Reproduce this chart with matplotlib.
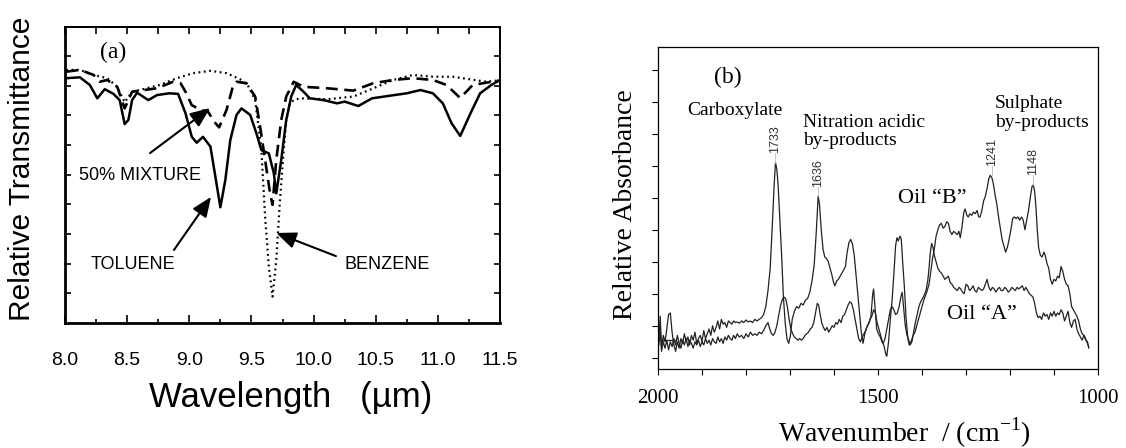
import numpy as np
import matplotlib
matplotlib.use("Agg")
import matplotlib.pyplot as plt

plt.rcParams['mathtext.fontset'] = 'custom'
plt.rcParams['mathtext.rm'] = 'Liberation Serif'

# ---------------- Panel (a) data: wavelength (um) vs relative transmittance ----------------
tol_w = [8.01, 8.12, 8.20, 8.26, 8.32, 8.39, 8.44, 8.48, 8.51, 8.54, 8.58, 8.62, 8.67, 8.74, 8.84, 8.91,
         8.97, 9.02, 9.06, 9.11, 9.17, 9.21, 9.25, 9.29, 9.33, 9.38, 9.42, 9.49, 9.54, 9.58, 9.64, 9.68,
         9.70, 9.74, 9.78, 9.82, 9.86, 9.92, 9.97, 10.08, 10.19, 10.25, 10.36, 10.47, 10.60, 10.75, 10.86,
         10.96, 11.04, 11.11, 11.18, 11.26, 11.34, 11.43, 11.50]
tol_t = [8.26, 8.29, 8.03, 7.58, 7.89, 7.73, 7.52, 6.71, 6.85, 7.52, 7.77, 7.66, 7.52, 7.69, 7.75, 7.73,
         7.07, 6.28, 6.08, 6.28, 5.95, 4.93, 3.90, 4.82, 6.17, 7.02, 7.24, 7.02, 6.40, 5.83, 5.72, 5.05,
         4.37, 5.50, 6.85, 7.64, 8.03, 7.80, 7.58, 7.52, 7.41, 7.47, 7.32, 7.58, 7.66, 7.75, 7.86,
         7.75, 7.41, 6.74, 6.31, 7.05, 7.75, 8.03, 8.20]

mix_w = [8.01, 8.12, 8.23, 8.28, 8.34, 8.42, 8.48, 8.54, 8.60, 8.74, 8.87, 8.93, 8.97, 9.02, 9.09, 9.15,
         9.21, 9.24, 9.30, 9.35, 9.38, 9.46, 9.53, 9.57, 9.61, 9.65, 9.67, 9.70, 9.74, 9.78, 9.84, 9.92,
         10.11, 10.32, 10.48, 10.64, 10.80, 10.96, 11.07, 11.18, 11.28, 11.39, 11.50]
mix_t = [8.48, 8.54, 8.37, 8.14, 8.20, 7.97, 7.24, 7.80, 7.84, 7.92, 8.14, 8.09, 7.80, 7.35, 7.19, 7.13,
         6.74, 6.60, 7.19, 7.97, 8.14, 8.09, 7.64, 6.62, 5.50, 4.37, 3.98, 5.50, 6.85, 7.64, 8.14, 7.97,
         7.92, 7.84, 8.09, 8.20, 8.26, 8.20, 8.03, 7.59, 8.03, 8.11, 8.18]

ben_w = [8.01, 8.12, 8.23, 8.34, 8.42, 8.48, 8.54, 8.61, 8.76, 8.90, 9.03, 9.17, 9.30, 9.41, 9.47, 9.53,
         9.55, 9.58, 9.61, 9.64, 9.67, 9.70, 9.73, 9.76, 9.78, 9.81, 9.84, 9.89, 10.11, 10.32, 10.51,
         10.64, 10.80, 10.96, 11.12, 11.39, 11.50]
ben_t = [8.54, 8.54, 8.37, 8.26, 7.97, 7.45, 7.80, 7.87, 8.03, 8.26, 8.43, 8.51, 8.43, 8.22, 8.03, 7.52,
         6.85, 5.84, 3.58, 1.89, 0.88, 2.12, 4.15, 5.84, 6.85, 7.41, 7.52, 7.58, 7.55, 7.64, 7.97,
         8.20, 8.37, 8.31, 8.31, 8.14, 8.19]

a_xticklabels = ['8.0', '8.5', '9.0', '9.5', '10.0', '10.5', '11.0', '11.5']

# ---------------- Panel (b) data: wavenumber (cm-1) vs relative absorbance ----------------
oilB_x = [1998, 1995, 1992, 1988, 1984, 1980, 1976, 1972, 1968, 1964, 1960, 1956, 1952, 1948, 1944, 1940,
          1936, 1932, 1928, 1924, 1920, 1916, 1912, 1908, 1904, 1900, 1896, 1892, 1888, 1884, 1880, 1876,
          1872, 1868, 1864, 1860, 1856, 1852, 1848, 1844, 1840, 1836, 1832, 1828, 1824, 1820, 1815, 1810,
          1805, 1800, 1795, 1790, 1785, 1780, 1775, 1770, 1765, 1760, 1755, 1750, 1745, 1740, 1736, 1733,
          1730, 1727, 1723, 1719, 1715, 1711, 1707, 1703, 1699, 1695, 1690, 1685, 1680, 1675, 1670, 1665,
          1660, 1655, 1650, 1645, 1640, 1636, 1633, 1629, 1625, 1621, 1617, 1613, 1609, 1605, 1601, 1598,
          1594, 1590, 1586, 1582, 1578, 1574, 1570, 1566, 1562, 1558, 1554, 1550, 1546, 1542, 1538, 1534,
          1530, 1526, 1522, 1518, 1514, 1510, 1506, 1502, 1498, 1494, 1490, 1486, 1482, 1480, 1476, 1472,
          1468, 1464, 1460, 1457, 1454, 1450, 1447, 1444, 1440, 1436, 1432, 1429, 1425, 1420, 1416, 1412,
          1408, 1404, 1400, 1396, 1392, 1388, 1384, 1380, 1376, 1372, 1368, 1364, 1360, 1356, 1352, 1348,
          1344, 1340, 1336, 1332, 1328, 1324, 1320, 1316, 1313, 1309, 1305, 1302, 1298, 1295, 1291, 1287,
          1283, 1279, 1275, 1271, 1268, 1264, 1260, 1256, 1252, 1248, 1245, 1241, 1238, 1234, 1230, 1226,
          1222, 1218, 1214, 1210, 1206, 1202, 1198, 1194, 1190, 1186, 1182, 1178, 1174, 1170, 1166, 1162,
          1158, 1154, 1150, 1147, 1144, 1141, 1138, 1135, 1131, 1127, 1123, 1120, 1116, 1112, 1108, 1104,
          1100, 1096, 1092, 1088, 1084, 1080, 1076, 1072, 1068, 1064, 1060, 1056, 1052, 1048, 1044, 1040,
          1036, 1032, 1028, 1024, 1021]
oilB_y = [0.6, 1.3, 0.3, 0.7, 0.5, 0.9, 1.35, 1.4, 0.8, 0.4, 0.2, 0.5, 0.3, 0.6, 0.45, 0.75,
          0.5, 0.65, 0.4, 0.7, 0.55, 0.8, 0.45, 0.6, 0.7, 0.5, 0.85, 0.6, 0.75, 0.9, 0.7, 1.0,
          0.8, 0.95, 1.15, 0.9, 1.2, 1.05, 1.1, 0.95, 1.15, 1.1, 1.05, 1.15, 1.1, 1.12, 1.08, 1.15,
          1.1, 1.18, 1.12, 1.15, 1.1, 1.2, 1.15, 1.2, 1.25, 1.35, 1.6, 2.1, 2.8, 4.2, 5.4, 6.1,
          5.9, 5.4, 4.3, 3.2, 1.9, 1.1, 0.6, 0.45, 0.7, 1.2, 1.45, 1.6, 1.55, 1.7, 1.65, 1.8,
          1.85, 2.05, 2.4, 2.9, 4.0, 5.05, 4.8, 4.0, 3.4, 3.15, 3.1, 3.0, 2.8, 2.6, 2.35, 2.25,
          2.4, 2.45, 2.55, 2.65, 2.75, 2.85, 3.3, 3.6, 3.7, 3.55, 3.2, 2.6, 2.0, 1.4, 0.8, 0.45,
          0.75, 0.95, 1.05, 1.2, 1.3, 1.5, 1.4, 1.1, 0.9, 0.7, 0.5, 0.35, 0.1, 0.05, 0.5, 1.2,
          1.8, 2.6, 3.5, 3.75, 3.65, 3.8, 3.7, 3.0, 2.2, 1.2, 0.6, 0.4, 0.5, 0.7, 0.8, 1.0,
          1.2, 1.4, 1.6, 1.8, 1.95, 2.1, 2.3, 2.7, 3.1, 3.4, 3.8, 4.0, 4.15, 4.2, 4.05, 4.1,
          4.25, 4.2, 3.95, 3.85, 3.95, 3.9, 3.85, 3.95, 3.75, 4.1, 4.55, 4.65, 4.45, 4.4, 4.5, 4.45,
          4.55, 4.5, 4.6, 4.4, 4.4, 4.6, 4.9, 5.05, 5.3, 5.6, 5.7, 5.62, 5.45, 5.1, 4.8, 4.4,
          4.05, 3.7, 3.5, 3.3, 3.45, 3.7, 4.0, 4.35, 4.4, 4.35, 4.4, 4.3, 4.4, 4.3, 4.0, 4.3,
          4.6, 5.0, 5.35, 5.4, 5.2, 4.7, 4.0, 3.45, 3.2, 3.15, 3.3, 3.2, 2.95, 2.8, 2.45, 2.3,
          2.45, 2.4, 2.55, 2.5, 2.85, 2.7, 2.45, 2.3, 2.25, 2.0, 1.6, 1.5, 1.4, 1.3, 1.15, 0.9,
          0.75, 0.7, 0.55, 0.5, 0.3]

oilA_x = [1998, 1995, 1992, 1988, 1984, 1980, 1976, 1972, 1968, 1964, 1960, 1956, 1952, 1948, 1944, 1940,
          1936, 1932, 1928, 1924, 1920, 1916, 1912, 1908, 1904, 1900, 1896, 1892, 1888, 1884, 1880, 1876,
          1872, 1868, 1864, 1860, 1856, 1852, 1848, 1844, 1840, 1836, 1832, 1828, 1824, 1820, 1815, 1810,
          1805, 1800, 1795, 1790, 1785, 1780, 1775, 1770, 1765, 1760, 1755, 1750, 1746, 1742, 1738, 1734,
          1730, 1726, 1722, 1718, 1714, 1710, 1706, 1702, 1698, 1694, 1690, 1686, 1682, 1678, 1674, 1670,
          1666, 1662, 1658, 1654, 1650, 1646, 1642, 1638, 1635, 1632, 1628, 1624, 1620, 1616, 1612, 1608,
          1604, 1600, 1596, 1592, 1588, 1584, 1580, 1576, 1572, 1568, 1564, 1560, 1556, 1552, 1548, 1544,
          1540, 1536, 1532, 1528, 1524, 1520, 1516, 1512, 1510, 1507, 1503, 1499, 1495, 1491, 1488, 1484,
          1480, 1476, 1472, 1468, 1464, 1460, 1456, 1452, 1448, 1445, 1442, 1438, 1434, 1430, 1427, 1423,
          1419, 1415, 1411, 1407, 1403, 1399, 1395, 1391, 1387, 1384, 1381, 1378, 1375, 1372, 1368, 1364,
          1360, 1356, 1352, 1348, 1344, 1340, 1336, 1332, 1328, 1324, 1320, 1316, 1312, 1308, 1304, 1300,
          1296, 1292, 1288, 1284, 1280, 1276, 1272, 1268, 1264, 1260, 1256, 1252, 1248, 1244, 1240, 1236,
          1232, 1228, 1224, 1220, 1216, 1212, 1208, 1204, 1200, 1196, 1192, 1188, 1184, 1180, 1176, 1172,
          1168, 1164, 1160, 1156, 1152, 1148, 1144, 1140, 1136, 1132, 1128, 1124, 1120, 1116, 1112, 1108,
          1104, 1100, 1096, 1092, 1088, 1084, 1080, 1076, 1072, 1068, 1064, 1060, 1056, 1052, 1048, 1044,
          1040, 1036, 1032, 1028, 1024, 1021]
oilA_y = [0.4, 0.9, 0.2, 0.5, 0.3, 0.55, 0.25, 0.5, 0.35, 0.6, 0.4, 0.7, 0.45, 0.3, 0.55, 0.4,
          0.6, 0.35, 0.55, 0.45, 0.3, 0.5, 0.4, 0.55, 0.35, 0.5, 0.4, 0.6, 0.45, 0.55, 0.4, 0.6,
          0.5, 0.45, 0.65, 0.5, 0.6, 0.45, 0.65, 0.55, 0.7, 0.6, 0.55, 0.7, 0.6, 0.75, 0.65, 0.7,
          0.6, 0.75, 0.65, 0.8, 0.7, 0.75, 0.7, 0.8, 0.75, 0.85, 1.0, 1.1, 0.9, 0.75, 0.7, 0.8,
          1.0, 1.3, 1.6, 1.8, 1.9, 1.85, 1.6, 1.2, 0.9, 0.75, 0.65, 0.6, 0.55, 0.6, 0.55, 0.6,
          0.7, 0.75, 0.8, 0.9, 0.95, 1.1, 1.4, 1.7, 1.65, 1.4, 1.1, 0.95, 0.85, 0.95, 0.8, 0.9,
          1.0, 0.95, 1.1, 1.05, 1.2, 1.1, 1.3, 1.35, 1.5, 1.65, 1.75, 1.7, 1.5, 1.2, 0.9, 0.6,
          0.5, 0.65, 0.75, 0.85, 1.0, 1.1, 1.3, 2.0, 2.15, 1.6, 0.9, 0.75, 0.65, 0.5, 0.45, 0.6,
          0.9, 1.2, 1.5, 1.6, 1.5, 1.35, 1.4, 1.6, 1.9, 2.05, 1.6, 1.0, 0.7, 0.55, 0.4, 0.5,
          0.8, 1.1, 1.35, 1.6, 1.75, 1.85, 1.95, 2.1, 2.4, 2.8, 3.3, 3.57, 3.45, 3.2, 3.0, 2.8,
          2.7, 2.65, 2.55, 2.45, 2.5, 2.55, 2.35, 2.3, 2.2, 2.15, 2.1, 2.2, 2.15, 2.05, 2.0, 2.3,
          2.25, 2.1, 2.15, 2.25, 2.1, 2.05, 2.2, 2.15, 2.1, 2.15, 2.3, 2.45, 2.2, 2.1, 2.2, 2.15,
          2.05, 2.15, 2.2, 2.1, 2.1, 2.2, 2.15, 2.05, 2.1, 2.2, 2.15, 2.1, 2.2, 2.15, 2.2, 2.25,
          2.1, 2.2, 2.1, 2.0, 1.95, 1.9, 1.7, 1.4, 1.25, 1.3, 1.2, 1.4, 1.3, 1.35, 1.2, 1.4,
          1.3, 1.45, 1.3, 1.4, 1.35, 1.5, 1.4, 1.15, 1.3, 1.45, 1.1, 0.95, 1.15, 1.2, 0.9, 0.75,
          0.65, 0.55, 0.7, 0.6, 0.45, 0.35]

start_seg_x = [1996, 1962]
start_seg_y = [0.55, 0.55]

peak_pos = [1733, 1636, 1241, 1148]
peak_val = [6.1, 5.05, 5.7, 5.4]
peak_labels = ['1733', '1636', '1241', '1148']

b_xticks = [2000, 1500, 1000]

# ---------------- Figure ----------------
W, H = 1126, 448
fig = plt.figure(figsize=(W / 100, H / 100), dpi=100)

SANS = ['Liberation Sans', 'DejaVu Sans']
SERIF = ['Liberation Serif', 'DejaVu Serif']

# ---- panel (a) ----
axa = fig.add_axes([65 / W, 1 - 322.7 / H, 435 / W, 296 / H])
axa.plot(tol_w, tol_t, color='k', lw=1.8, ls='-')
axa.plot(mix_w, mix_t, color='k', lw=1.9, ls=(0, (4.5, 2.5)))
axa.plot(ben_w, ben_t, color='k', lw=1.6, ls=(0, (0.8, 1.6)))
axa.set_xlim(8.0, 11.5)
axa.set_ylim(0, 10)
axa.set_xticks(np.arange(8.0, 11.51, 0.5))
axa.set_xticklabels(a_xticklabels, fontfamily=SANS, fontsize=14)
axa.set_xticks(np.arange(8.0, 11.51, 0.25), minor=True)
axa.set_yticks(np.arange(1, 10))
axa.set_yticklabels([])
axa.tick_params(axis='x', which='major', direction='in', length=6, width=1.2, top=False, pad=21)
axa.tick_params(axis='x', which='minor', direction='in', length=3, width=1.2, top=False)
axa.tick_params(axis='y', which='major', direction='in', length=4, width=1.2, left=True, right=True)
sec = axa.secondary_xaxis('top')
sec.set_xticks(np.arange(8.0, 11.51, 0.25))
sec.set_xticklabels([])
sec.tick_params(direction='in', length=5, width=1.2)
for s in ['left', 'bottom']:
    axa.spines[s].set_linewidth(2.0)
for s in ['top', 'right']:
    axa.spines[s].set_linewidth(1.4)
sec.spines['top'].set_linewidth(1.4)

axa.text(8.39, 9.14, '(a)', fontfamily=SERIF, fontsize=17, ha='center', va='center')
axa.text(8.60, 4.98, '50% MIXTURE', fontfamily=SANS, fontsize=13, ha='center', va='center')
axa.text(8.55, 1.95, 'TOLUENE', fontfamily=SANS, fontsize=13, ha='center', va='center')
axa.text(10.59, 1.95, 'BENZENE', fontfamily=SANS, fontsize=13, ha='center', va='center')
arrow_kw = dict(arrowstyle='-|>,head_length=0.6,head_width=0.25', color='k', lw=1.5,
                shrinkA=0, shrinkB=0, mutation_scale=20)
axa.annotate('', xy=(9.167, 7.25), xytext=(8.684, 5.73), arrowprops=arrow_kw)
axa.annotate('', xy=(9.175, 4.25), xytext=(8.877, 2.46), arrowprops=arrow_kw)
axa.annotate('', xy=(9.70, 3.03), xytext=(10.18, 2.25), arrowprops=arrow_kw)

fig.text(22.5 / W, 1 - 321 / H, 'Relative Transmittance', rotation=90, fontfamily=SANS,
         fontsize=21.5, ha='center', va='bottom')
fig.text(291 / W, 1 - 398 / H, 'Wavelength   (µm)', fontfamily=SANS, fontsize=25,
         ha='center', va='center')

# ---- panel (b) ----
axb = fig.add_axes([658 / W, 1 - 369.3 / H, 440 / W, 322 / H])
axb.plot(oilB_x, oilB_y, color='#222222', lw=0.9)
axb.plot(oilA_x, oilA_y, color='#222222', lw=0.9)
axb.plot(start_seg_x, start_seg_y, color='#222222', lw=0.9)
axb.set_xlim(2000, 1000)
axb.set_ylim(-0.36, 9.7)
axb.set_xticks(b_xticks)
axb.set_xticklabels([str(v) for v in b_xticks], fontfamily=SERIF, fontsize=15)
axb.set_xticks(np.arange(1000, 2001, 100), minor=True)
axb.set_yticks(np.arange(0, 10))
axb.set_yticklabels([])
axb.tick_params(axis='x', which='both', direction='out', length=4, width=0.8, pad=10)
axb.tick_params(axis='y', which='both', direction='out', length=4, width=0.8)
for s in axb.spines.values():
    s.set_linewidth(0.9)

for pos, val, lab in zip(peak_pos, peak_val, peak_labels):
    axb.plot([pos, pos], [val, val + 0.3], color='#bbbbbb', lw=0.6)
    axb.text(pos, val + 0.3, lab, rotation=90, fontfamily=SANS, fontsize=9, color='#333333',
             ha='center', va='bottom')

axb.text(1841, 8.77, '(b)', fontfamily=SERIF, fontsize=17, ha='center', va='center')
axb.text(1934, 7.71, 'Carboxylate', fontfamily=SERIF, fontsize=14, ha='left', va='center')
axb.text(1670, 7.07, 'Nitration acidic\nby-products', fontfamily=SERIF, fontsize=14,
         ha='left', va='center', linespacing=1.15)
axb.text(1234, 7.64, 'Sulphate\nby-products', fontfamily=SERIF, fontsize=14,
         ha='left', va='center', linespacing=1.15)
axb.text(1455, 4.99, 'Oil “B”', fontfamily=SERIF, fontsize=16, ha='left', va='center')
axb.text(1343, 1.34, 'Oil “A”', fontfamily=SERIF, fontsize=16, ha='left', va='center')

fig.text(625 / W, 1 - 205 / H, 'Relative Absorbance', rotation=90, fontfamily=SERIF,
         fontsize=20, ha='center', va='center')
fig.text(904 / W, 1 - 433 / H, r'Wavenumber  / (cm$^{\mathregular{-1}}$)', fontfamily=SERIF,
         fontsize=20, ha='center', va='center')

fig.savefig('out.png', dpi=100)
